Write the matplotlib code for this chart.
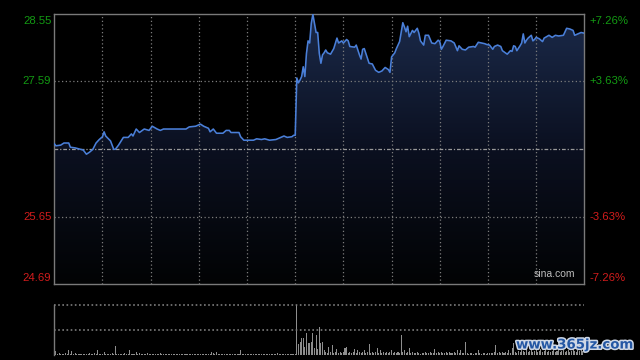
import matplotlib
matplotlib.use("Agg")
import matplotlib.pyplot as plt
import matplotlib.transforms as mtransforms
import matplotlib.patheffects as pe
import numpy as np
from matplotlib.colors import LinearSegmentedColormap

plt.rcParams['font.family'] = ['Liberation Sans', 'DejaVu Sans']

# ---------------- data ----------------
prev_close = 26.62
price_ticks = [24.69, 25.65, 27.59, 28.55]
price_labels = ['24.69', '25.65', '27.59', '28.55']
pct_labels = ['-7.26%', '-3.63%', '+3.63%', '+7.26%']
total_minutes = 330  # HK session 09:30-12:00, 13:00-16:00

am_minutes = [0, 1, 4, 6, 9, 10, 13, 18, 20, 22,
              24, 26, 28, 30, 31, 32, 35, 37, 38, 40,
              43, 46, 48, 49, 51, 53, 56, 59, 61, 64,
              66, 68, 75, 82, 84, 88, 91, 93, 96, 97,
              99, 101, 105, 107, 109, 110, 115, 116, 118, 124,
              126, 129, 131, 134, 138, 143, 145, 148, 149, 150]
am_prices = [26.70, 26.67, 26.68, 26.71, 26.71, 26.65, 26.64, 26.61, 26.55, 26.58,
             26.62, 26.71, 26.76, 26.80, 26.87, 26.81, 26.74, 26.62, 26.62, 26.68,
             26.79, 26.79, 26.84, 26.81, 26.91, 26.86, 26.91, 26.89, 26.95, 26.91,
             26.89, 26.91, 26.91, 26.91, 26.94, 26.95, 26.98, 26.95, 26.92, 26.87,
             26.91, 26.85, 26.85, 26.89, 26.89, 26.86, 26.86, 26.80, 26.75, 26.75,
             26.77, 26.76, 26.77, 26.75, 26.76, 26.81, 26.79, 26.80, 26.82, 26.82]

pm_minutes = [151, 152, 153, 154, 155, 156, 157, 158, 159, 160,
              161, 162, 163, 164, 165, 166, 167, 168, 169, 170,
              172, 174, 176, 177, 179, 180, 182, 183, 184, 187,
              188, 190, 191, 192, 193, 196, 198, 200, 202, 204,
              206, 208, 209, 210, 212, 213, 215, 217, 218, 219,
              220, 221, 223, 224, 226, 227, 228, 230, 231, 233,
              235, 237, 239, 240, 241, 242, 244, 247, 249, 251,
              252, 254, 256, 258, 261, 262, 264, 266, 268, 269,
              271, 273, 274, 276, 278, 279, 282, 284, 285, 286,
              287, 288, 290, 291, 292, 293, 294, 295, 297, 298,
              299, 300, 302, 304, 305, 308, 310, 312, 314, 317,
              319, 321, 323, 324, 326, 328, 330]
pm_prices = [27.64, 27.57, 27.61, 27.66, 27.80, 27.66, 27.99, 28.17, 28.14, 28.42,
             28.55, 28.42, 28.29, 28.29, 27.99, 27.85, 27.97, 28.00, 28.04, 28.00,
             27.98, 28.06, 28.21, 28.14, 28.17, 28.14, 28.19, 28.17, 28.09, 28.08,
             28.11, 27.97, 27.91, 28.05, 28.06, 27.85, 27.84, 27.75, 27.72, 27.74,
             27.79, 27.76, 27.72, 27.94, 28.00, 28.06, 28.16, 28.43, 28.37, 28.30,
             28.38, 28.23, 28.32, 28.29, 28.35, 28.28, 28.17, 28.11, 28.25, 28.25,
             28.14, 28.13, 28.18, 28.16, 28.05, 28.09, 28.18, 28.17, 28.14, 28.03,
             28.10, 28.05, 28.04, 28.08, 28.09, 28.08, 28.15, 28.14, 28.13, 28.12,
             28.11, 28.05, 28.09, 28.11, 28.09, 28.03, 27.98, 28.03, 28.02, 28.10,
             28.09, 28.03, 28.10, 28.14, 28.27, 28.14, 28.18, 28.21, 28.25, 28.17,
             28.19, 28.22, 28.20, 28.16, 28.21, 28.25, 28.22, 28.25, 28.24, 28.25,
             28.35, 28.34, 28.32, 28.25, 28.27, 28.29, 28.28]

# per-minute volume (relative units), minute 0..330
am_volume = [4, 4, 1, 2, 1, 1, 1, 2, 1, 5,
             1, 4, 1, 2, 1, 1, 1, 1, 1, 1,
             1, 1, 2, 1, 1, 2.5, 1, 5, 1, 1,
             1, 3, 1, 1, 1, 1, 2, 1, 9, 1,
             1, 1, 1, 1, 2, 1, 1, 5, 1, 1,
             1, 3, 1, 2, 1, 1, 1, 1, 2, 1,
             1, 1, 1, 1, 1, 1, 2, 1, 1, 1,
             1, 1, 1, 1, 1, 1, 1, 1, 1, 1,
             1, 1, 1, 1, 1, 1, 1, 1, 1, 1,
             1, 1, 1, 1, 1, 1, 1, 1, 3, 2,
             1, 3, 1, 1, 1, 1, 1, 1, 1, 1,
             1, 1, 1, 1, 1, 1, 5, 1, 1, 1,
             1, 1, 1, 1, 1, 1, 1, 1, 1, 1,
             1, 1, 1, 1, 1, 1, 1, 1, 1, 2,
             1, 1, 1, 1, 1, 1, 1, 1, 1, 1,
             1]
pm_volume = [52, 11, 13, 17, 17, 8, 22, 12, 12,
             13, 22, 7, 20, 6, 28, 12, 13, 5, 3,
             2, 8, 3, 10, 2, 3, 6, 2, 3, 2,
             3, 7, 8, 2, 3, 2, 3, 6, 2, 5,
             3, 2, 3, 5, 2, 3, 11, 2, 3, 2,
             3, 7, 2, 5, 2, 3, 2, 3, 2, 3,
             5, 2, 3, 2, 3, 2, 20, 3, 5, 2,
             3, 7, 2, 3, 2, 2, 3, 2, 1, 2,
             2, 3, 2, 2, 3, 2, 2, 6, 2, 3,
             2, 3, 2, 2, 3, 2, 3, 2, 2, 3,
             2, 5, 2, 5, 2, 2, 13, 2, 1, 2,
             2, 1, 2, 2, 5, 2, 1, 2, 2, 1,
             2, 2, 2, 2, 3, 10, 2, 3, 2, 3,
             2, 3, 2, 5, 2, 7, 12, 3, 2, 4,
             3, 5, 4, 3, 6, 3, 4, 5, 3, 4,
             5, 3, 4, 6, 3, 4, 5, 3, 4, 3,
             4, 5, 3, 4, 6, 3, 4, 5, 3, 4,
             5, 3, 4, 6, 4, 3, 5, 4, 6, 4,
             50]

# ---------------- style ----------------
BG = 'black'
GRID = '#7c7c7c'
SPINE = '#7a7a7a'
LINE = '#4a7fd8'
GREEN = '#139a13'
RED = '#d21c1c'

minutes = am_minutes + pm_minutes
prices = am_prices + pm_prices
volume = am_volume + pm_volume
vol_minutes = list(range(len(volume)))

W, H = 640, 360
fig = plt.figure(figsize=(W / 100, H / 100), dpi=100, facecolor=BG)
ax = fig.add_axes([54.3 / W, (H - 284.3) / H, 530 / W, 270 / H])
vax = fig.add_axes([54.3 / W, (H - 355) / H, 530 / W, 50 / H])

ymin, ymax = price_ticks[0], price_ticks[-1]
ax.set_facecolor(BG)

# gradient area under the price line
poly = ax.fill_between(minutes, prices, ymin, color='none', linewidth=0)
cmap = LinearSegmentedColormap.from_list('g', ['#020304', '#0b1020', '#1b2a4a'])
grad = np.linspace(0, 1, 256).reshape(-1, 1)
im = ax.imshow(grad, cmap=cmap, origin='lower', aspect='auto',
               extent=[0, total_minutes, ymin, ymax], zorder=1)
im.set_clip_path(poly.get_paths()[0], transform=ax.transData)

ax.plot(minutes, prices, color=LINE, lw=1.15, zorder=4, solid_joinstyle='round')

ax.set_xlim(0, total_minutes)
ax.set_ylim(ymin, ymax)

# grid
for m in range(30, total_minutes, 30):
    ax.axvline(m, color=GRID, lw=0.9, linestyle=(0, (1, 2)), zorder=2)
for p in price_ticks[1:-1]:
    ax.axhline(p, color=GRID, lw=0.9, linestyle=(0, (1, 2)), zorder=2)
ax.axhline(prev_close, color='#9a9a9a', lw=0.9, linestyle=(0, (3, 1.5, 1, 1.5)), zorder=2)

for s in ax.spines.values():
    s.set_color(SPINE)
    s.set_linewidth(1)
ax.set_xticks([])
ax.set_yticks([])

# labels
for i, (p, lab, pct) in enumerate(zip(price_ticks, price_labels, pct_labels)):
    col = GREEN if p > prev_close else RED
    dy = 0
    if i == len(price_ticks) - 1:
        dy = -6.4
    elif i == 0:
        dy = 6
    tr_l = mtransforms.offset_copy(ax.get_yaxis_transform(), fig=fig, x=-3, y=dy, units='dots')
    tr_r = mtransforms.offset_copy(ax.get_yaxis_transform(), fig=fig, x=5.5, y=dy, units='dots')
    ax.text(0, p, lab, transform=tr_l, ha='right', va='center', color=col, fontsize=8.2)
    ax.text(1, p, pct, transform=tr_r, ha='left', va='center', color=col, fontsize=8.2)

ax.text(0.982, 0.02, 'sina.com', transform=ax.transAxes, ha='right', va='bottom',
        color='#bdbdbd', fontsize=7.5, zorder=5)

# volume panel
vax.set_facecolor(BG)
vax.bar(vol_minutes, volume, width=0.65, color='#8e8e8e', linewidth=0)
vax.set_xlim(0, total_minutes)
vax.set_ylim(0, 50)
vax.axhline(50, color=GRID, lw=1.2, linestyle=(0, (1, 1.5)), clip_on=False)
vax.axhline(25, color=GRID, lw=1.2, linestyle=(0, (1, 1.5)))
for k in ['top', 'right', 'bottom']:
    vax.spines[k].set_visible(False)
vax.spines['left'].set_color(SPINE)
vax.spines['left'].set_linewidth(1)
vax.set_xticks([])
vax.set_yticks([])

# watermark
fig.text(516 / W, 1 - 345 / H, 'www.365jz.com', ha='left', va='center',
         fontsize=9.6, fontweight='bold', family=['DejaVu Sans'], color='#2457a4',
         path_effects=[pe.withStroke(linewidth=2.2, foreground='#cfd8e6')])

fig.savefig('out.png', dpi=100, facecolor=BG)
